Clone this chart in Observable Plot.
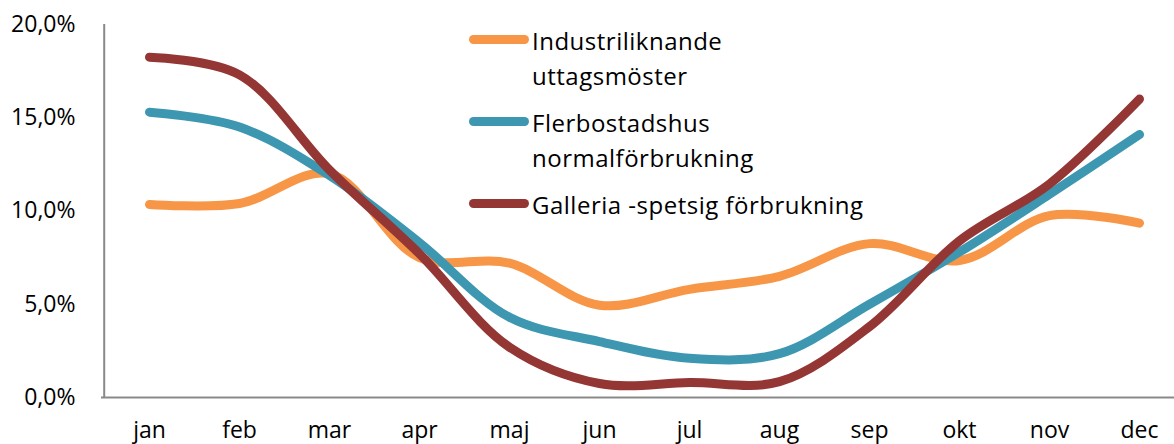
<!DOCTYPE html>
<html>
<head>
<meta charset="utf-8">
<script src="https://cdn.jsdelivr.net/npm/d3@7"></script>
<script src="https://cdn.jsdelivr.net/npm/@observablehq/plot@0.6"></script>
<style>
  html, body { margin: 0; padding: 0; background: #fff; }
  #wrap { position: relative; width: 1174px; height: 444px; overflow: hidden; font-family: "Open Sans", sans-serif; }
  #legend { position: absolute; left: 0; top: 0; }
  .item { position: absolute; left: 469px; display: flex; align-items: flex-start; white-space: nowrap; }
  .swatch { width: 60px; height: 9px; border-radius: 4.5px; margin-top: 12px; flex: none; }
  .label { margin-left: 3px; font-size: 24px; letter-spacing: 0.5px; line-height: 35px; color: #000; white-space: nowrap; }
</style>
</head>
<body>
<div id="wrap"><div id="chart"></div><div id="legend"></div></div>
<script>
const months = ["jan","feb","mar","apr","maj","jun","jul","aug","sep","okt","nov","dec"];
const seriesNames = ["Industriliknande uttagsmöster", "Flerbostadshus normalförbrukning", "Galleria -spetsig förbrukning"];
const legendLines = [["Industriliknande", "uttagsmöster"], ["Flerbostadshus", "normalförbrukning"], ["Galleria -spetsig förbrukning"]];
const colors = ["#F79646", "#3E97B0", "#943634"];
const industri = [10.35, 10.4, 12.0, 7.5, 7.2, 4.95, 5.8, 6.5, 8.25, 7.35, 9.75, 9.35];
const flerbostad = [15.3, 14.5, 11.9, 8.3, 4.3, 3.0, 2.1, 2.35, 5.0, 7.8, 10.9, 14.1];
const galleria = [18.25, 17.3, 12.2, 7.7, 2.7, 0.75, 0.8, 0.85, 3.8, 8.4, 11.45, 16.0];
const yTicks = [0, 5, 10, 15, 20];

const allValues = [industri, flerbostad, galleria];
const data = seriesNames.flatMap((s, i) => months.map((m, j) => ({series: s, month: m, value: allValues[i][j]})));

const fmt = d => d.toFixed(1).replace(".", ",") + "%";

const chart = Plot.plot({
  width: 1174,
  height: 444,
  marginLeft: 101,
  marginRight: 0,
  marginTop: 24,
  marginBottom: 47,
  style: { fontFamily: "Open Sans, sans-serif", fontSize: "23px", color: "#000", background: "transparent", overflow: "visible" },
  x: { type: "point", domain: months, range: [146.3, 1142.5], padding: 0 },
  y: { domain: [0, 20] },
  color: { domain: seriesNames, range: colors },
  marks: [
    Plot.axisY({ ticks: yTicks, tickFormat: fmt, tickSize: 0, tickPadding: 26, label: null, fill: "#000", fontSize: 23 }),
    Plot.axisX({ tickSize: 0, tickPadding: 24, label: null, fill: "#000", fontSize: 23 }),
    Plot.ruleY([0], { stroke: "#898989", strokeWidth: 2 }),
    Plot.ruleX([0], { x: () => "jan", dx: -45.3, stroke: "#898989", strokeWidth: 2 }),
    Plot.line(data, { x: "month", y: "value", z: "series", stroke: "series", curve: "catmull-rom", strokeWidth: 9, strokeLinecap: "round", strokeLinejoin: "round" })
  ]
});
document.getElementById("chart").appendChild(chart);

const legend = document.getElementById("legend");
const tops = [22.6, 104.6, 186.6];
seriesNames.forEach((s, i) => {
  const item = document.createElement("div");
  item.className = "item";
  item.style.top = tops[i] + "px";
  const sw = document.createElement("div");
  sw.className = "swatch";
  sw.style.background = colors[i];
  const lab = document.createElement("div");
  lab.className = "label";
  lab.innerHTML = legendLines[i].join("<br>");
  item.appendChild(sw);
  item.appendChild(lab);
  legend.appendChild(item);
});
</script>
</body>
</html>
